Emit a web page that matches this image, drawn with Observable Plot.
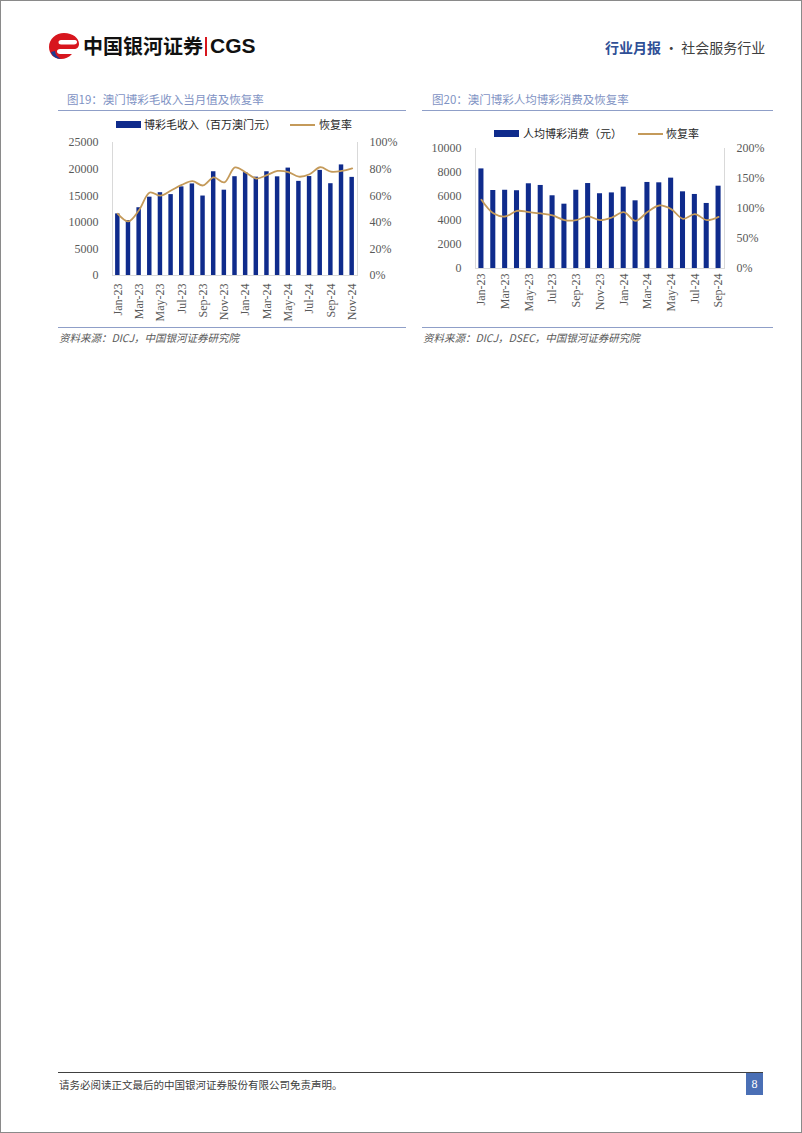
<!DOCTYPE html>
<html><head><meta charset="utf-8">
<script src="https://cdn.jsdelivr.net/npm/d3@7"></script>
<script src="https://cdn.jsdelivr.net/npm/@observablehq/plot@0.6"></script>
<style>
html,body{margin:0;padding:0;background:#fff;}
#page{position:relative;width:802px;height:1133px;box-sizing:border-box;border:1px solid #8a8a8a;overflow:hidden;font-family:"Noto Sans CJK SC",sans-serif;}
.abs{position:absolute;white-space:nowrap;}
.title{font-size:11.5px;color:#7f93c4;line-height:1;}
.uline{height:1px;background:#8f9fc8;}
.src{font-size:10.5px;color:#595959;font-style:italic;line-height:1;}
.leg{font-size:11px;color:#262626;line-height:1;}
.sw{background:#0f2b8c;height:7px;width:25px;}
.ln{background:#c49a5a;height:2px;width:25px;}
</style></head>
<body><div id="page">
<!-- header -->
<svg class="abs" style="left:47px;top:31px" width="32" height="28" viewBox="0 0 32 28">
  <path d="M16 1 C25 1 31 6 31 12 C31 15 29 17 26 17 L12 17 C10 17 9 18 9 19.5 C9 21 10 22 12 22 L24 22 C21 25.5 17 27 13 27 C6 27 1 22 1 15 C1 7 8 1 16 1 Z" fill="#d7161e"/>
  <path d="M13 8 L27 8 C28.5 8 29 9 29 10 C29 11.5 28 12.5 26 12.5 L13 12.5 C11.5 12.5 10.5 11.5 10.5 10.2 C10.5 9 11.5 8 13 8 Z" fill="#fff"/>
  <path d="M3 20 C4 24 8 27 13 27 C9 25 7 22 7 19 Z" fill="#1d3a8f"/>
</svg>
<div class="abs" style="left:82px;top:33px;font-size:20px;font-weight:700;color:#111;line-height:24px;">中国银河证券</div>
<div class="abs" style="left:204px;top:36px;width:1.5px;height:19px;background:#d7161e;"></div>
<div class="abs" style="left:209px;top:33px;font-size:21px;font-weight:700;color:#111;line-height:24px;font-family:'Liberation Sans',Arial,sans-serif;">CGS</div>
<div class="abs" style="left:604px;top:37px;font-size:14px;line-height:18px;"><span style="color:#2f4f96;font-weight:700;">行业月报</span><span style="color:#404040;"> · 社会服务行业</span></div>

<!-- chart 1 -->
<div class="abs title" style="left:66px;top:93px;">图19：澳门博彩毛收入当月值及恢复率</div>
<div class="abs uline" style="left:57px;top:109px;width:348px;"></div>
<div class="abs sw" style="left:115px;top:120px;"></div>
<div class="abs leg" style="left:143px;top:118px;">博彩毛收入（百万澳门元）</div>
<div class="abs ln" style="left:289px;top:123px;"></div>
<div class="abs leg" style="left:318px;top:118px;">恢复率</div>
<div id="c1" class="abs" style="left:57px;top:136px;"></div>
<div class="abs uline" style="left:57px;top:326px;width:348px;"></div>
<div class="abs src" style="left:58px;top:332px;">资料来源：DICJ，中国银河证券研究院</div>

<!-- chart 2 -->
<div class="abs title" style="left:431px;top:93px;">图20：澳门博彩人均博彩消费及恢复率</div>
<div class="abs uline" style="left:421px;top:109px;width:351px;"></div>
<div class="abs sw" style="left:493px;top:129px;"></div>
<div class="abs leg" style="left:522px;top:127px;">人均博彩消费（元）</div>
<div class="abs ln" style="left:637px;top:132px;"></div>
<div class="abs leg" style="left:665px;top:127px;">恢复率</div>
<div id="c2" class="abs" style="left:421px;top:140px;"></div>
<div class="abs uline" style="left:421px;top:326px;width:351px;"></div>
<div class="abs src" style="left:422px;top:332px;">资料来源：DICJ，DSEC，中国银河证券研究院</div>

<!-- footer -->
<div class="abs" style="left:57px;top:1071px;width:705px;height:1px;background:#404040;"></div>
<div class="abs" style="left:58px;top:1077px;font-size:10.5px;color:#404040;line-height:14px;">请务必阅读正文最后的中国银河证券股份有限公司免责声明。</div>
<div class="abs" style="left:745px;top:1072px;width:17px;height:22px;background:#4a6fb5;color:#fff;font-family:'Liberation Serif',serif;font-size:12px;line-height:22px;text-align:center;">8</div>
</div>
<script>
// ---- chart 1 data ----
const months1 = ["Jan-23","Feb-23","Mar-23","Apr-23","May-23","Jun-23","Jul-23","Aug-23","Sep-23","Oct-23","Nov-23","Dec-23","Jan-24","Feb-24","Mar-24","Apr-24","May-24","Jun-24","Jul-24","Aug-24","Sep-24","Oct-24","Nov-24"];
const ggr = [11580,10324,12738,14722,15565,15207,16661,17213,14937,19501,16036,18571,19337,18486,19500,18545,20189,17694,18598,19754,17254,20787,18443];
const rate1 = [46.4,40.7,49.3,62.4,60.0,63.9,68.1,70.9,67.7,73.7,70.1,81.3,77.5,72.9,75.5,78.6,77.8,74.3,76.1,81.4,78.1,78.6,80.6];
const xTicks1 = ["Jan-23","Mar-23","May-23","Jul-23","Sep-23","Nov-23","Jan-24","Mar-24","May-24","Jul-24","Sep-24","Nov-24"];
const leftTicks1 = [0,5000,10000,15000,20000,25000];
const rightLabels1 = ["0%","20%","40%","60%","80%","100%"];
const rightMax1 = 100; // 100% maps to top of left axis

// ---- chart 2 data ----
const months2 = ["Jan-23","Feb-23","Mar-23","Apr-23","May-23","Jun-23","Jul-23","Aug-23","Sep-23","Oct-23","Nov-23","Dec-23","Jan-24","Feb-24","Mar-24","Apr-24","May-24","Jun-24","Jul-24","Aug-24","Sep-24"];
const perCap = [8300,6500,6520,6480,7060,6920,6060,5360,6520,7080,6230,6300,6780,5640,7170,7140,7530,6390,6170,5420,6860];
const rate2 = [114.5,92,86.7,96,94,91.7,88.5,80.6,80.6,87,80.6,85,94,79.4,94,105,99,82.8,90.6,80.6,86];
const xTicks2 = ["Jan-23","Mar-23","May-23","Jul-23","Sep-23","Nov-23","Jan-24","Mar-24","May-24","Jul-24","Sep-24"];
const leftTicks2 = [0,2000,4000,6000,8000,10000];
const rightTicks2 = [0,2500,5000,7500,10000];
const rightLabels2 = ["0%","50%","100%","150%","200%"];
const rightMax2 = 200;

const BAR = "#0f2b8c", LINE = "#c49a5a", AX = "#d9d9d9";

function chart({months, values, rates, xTicks, lTicks, rTicks, rLabels, rMax, width, height, margins, xPad, inset}) {
  const yMax = lTicks[lTicks.length-1];
  const data = months.map((m,i)=>({month:m, value:values[i], rate:rates[i]}));
  return Plot.plot({
    width, height, ...margins,
    style:{fontFamily:"'Liberation Serif','Times New Roman',serif", fontSize:"12px", color:"#595959", background:"transparent", overflow:"visible"},
    x:{type:"band", domain:months, padding:0, round:false},
    y:{domain:[0,yMax]},
    marks:[
      Plot.frame({anchor:"left", stroke:AX}),
      Plot.frame({anchor:"right", stroke:AX}),
      Plot.barY(data,{x:"month", y:"value", fill:BAR, insetLeft:inset, insetRight:inset}),
      Plot.ruleY([0],{stroke:AX}),
      Plot.line(data,{x:"month", y:d=>d.rate/rMax*yMax, stroke:LINE, strokeWidth:1.8, curve:"catmull-rom"}),
      Plot.axisY({anchor:"left", ticks:lTicks, tickSize:0, tickPadding:14, label:null, tickFormat:d=>String(d)}),
      Plot.axisY({anchor:"right", ticks:rTicks, tickSize:0, tickPadding:12, label:null, tickFormat:d=>rLabels[rTicks.indexOf(d)]}),
      Plot.axisX({ticks:xTicks, tickRotate:-90, tickSize:0, tickPadding:xPad, label:null})
    ]
  });
}

document.getElementById("c1").append(chart({
  months:months1, values:ggr, rates:rate1, xTicks:xTicks1, lTicks:leftTicks1, rTicks:leftTicks1, rLabels:rightLabels1, rMax:rightMax1,
  width:350, height:190, margins:{marginLeft:54, marginRight:51, marginTop:5, marginBottom:52}, xPad:8, inset:3.1
}));
document.getElementById("c2").append(chart({
  months:months2, values:perCap, rates:rate2, xTicks:xTicks2, lTicks:leftTicks2, rTicks:rightTicks2, rLabels:rightLabels2, rMax:rightMax2,
  width:352, height:190, margins:{marginLeft:53, marginRight:50, marginTop:7, marginBottom:63}, xPad:5, inset:3.4
}));
</script>
</body></html>
